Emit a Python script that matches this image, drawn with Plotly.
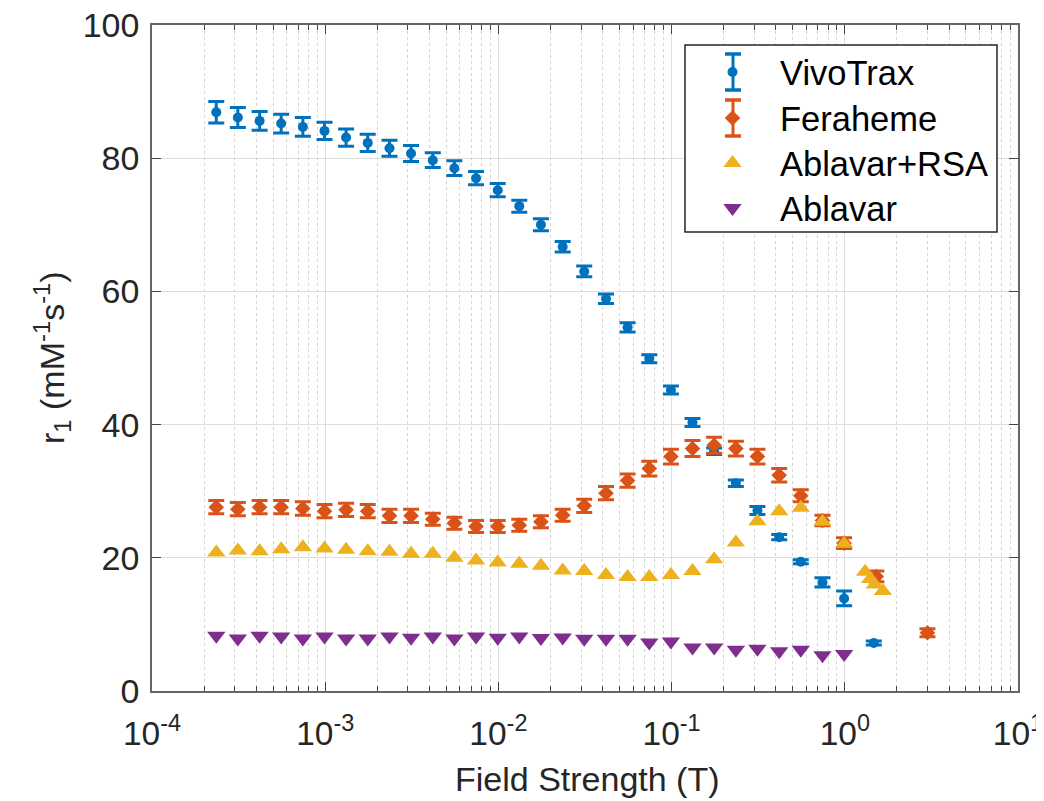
import plotly.graph_objects as go

# Field strength (T) for the field-cycling sweep (0.01 - 42 MHz proton Larmor)
field_sweep = [0.000235, 0.000313, 0.000418, 0.000557, 0.000743, 0.000991,
               0.00132, 0.00176, 0.00235, 0.00313, 0.00418, 0.00557,
               0.00743, 0.00991, 0.0132, 0.0176, 0.0235, 0.0313,
               0.0418, 0.0557, 0.0743, 0.0991, 0.132, 0.176,
               0.235, 0.313, 0.418, 0.557, 0.743, 0.991]

vivotrax_x = field_sweep + [1.47]
vivotrax_y = [86.9, 86.1, 85.6, 85.2, 84.7, 84.1, 83.1, 82.3, 81.5, 80.7,
              79.7, 78.5, 77.0, 75.2, 72.8, 70.0, 66.7, 63.0, 58.9, 54.6,
              49.9, 45.2, 40.3, 36.0, 31.2, 27.1, 23.1, 19.4, 16.3, 13.9,
              7.2]
vivotrax_err = [1.6, 1.5, 1.4, 1.4, 1.4, 1.3, 1.3, 1.3, 1.2, 1.2,
                1.1, 1.1, 1.0, 1.0, 0.9, 0.9, 0.8, 0.8, 0.7, 0.7,
                0.6, 0.6, 0.6, 0.5, 0.5, 0.6, 0.4, 0.3, 0.7, 1.1,
                0.3]

feraheme_x = field_sweep + [1.52, 3.0]
feraheme_y = [27.6, 27.3, 27.6, 27.6, 27.4, 27.0, 27.2, 27.0, 26.3, 26.3,
              25.8, 25.2, 24.7, 24.7, 24.9, 25.4, 26.4, 27.8, 29.7, 31.6,
              33.4, 35.2, 36.4, 36.9, 36.4, 35.2, 32.4, 29.3, 25.6, 22.2,
              17.2, 8.75]
feraheme_err = [1.0, 1.0, 1.0, 1.0, 1.0, 1.0, 1.0, 1.0, 1.0, 1.0,
                0.9, 0.9, 0.9, 0.9, 0.9, 0.9, 0.9, 1.0, 1.0, 1.0,
                1.1, 1.1, 1.2, 1.2, 1.1, 1.1, 1.0, 0.9, 0.8, 0.8,
                0.8, 0.6]

ablavar_rsa_x = field_sweep + [1.31, 1.40, 1.49, 1.66]
ablavar_rsa_y = [20.8, 21.1, 21.0, 21.3, 21.6, 21.4, 21.2, 21.0, 20.9, 20.6,
                 20.6, 20.0, 19.6, 19.3, 19.1, 18.8, 18.1, 18.0, 17.4, 17.1,
                 17.1, 17.4, 18.0, 19.8, 22.3, 25.5, 27.0, 27.5, 25.4, 22.1,
                 17.9, 16.8, 16.0, 15.0]

ablavar_x = field_sweep
ablavar_y = [8.3, 7.9, 8.3, 8.2, 7.9, 8.2, 7.9, 7.9, 8.2, 8.0,
             8.2, 7.9, 8.2, 8.0, 8.2, 7.95, 8.05, 7.85, 7.85, 7.85,
             7.3, 7.45, 6.55, 6.55, 6.2, 6.35, 5.95, 6.2, 5.35, 5.55]

x_tickvals = [1e-4, 1e-3, 1e-2, 1e-1, 1e0, 1e1]
x_ticktext = ["10<sup>-4</sup>", "10<sup>-3</sup>", "10<sup>-2</sup>",
              "10<sup>-1</sup>", "10<sup>0</sup>", "10<sup>1</sup>"]
y_tickvals = [0, 20, 40, 60, 80, 100]

BLUE = "#0072BD"
ORANGE = "#D95319"
YELLOW = "#EDB120"
PURPLE = "#7E2F8E"
FONT = "Liberation Sans, Arial, Helvetica, sans-serif"
TXT = "#262626"

# page geometry (the page body adds an 8 px offset)
PAGE_OFF = 8
PLOT_L, PLOT_R, PLOT_T, PLOT_B = 152, 1018, 25, 691


def px_to_paper(X, Y):
    return ((X - PLOT_L) / (PLOT_R - PLOT_L), (PLOT_B - Y) / (PLOT_B - PLOT_T))


fig = go.Figure()
fig.add_trace(go.Scatter(
    x=vivotrax_x, y=vivotrax_y, mode="markers", name="VivoTrax",
    legend="legend",
    marker=dict(symbol="circle", size=10, color=BLUE),
    error_y=dict(type="data", array=vivotrax_err, color=BLUE, thickness=3, width=8)))
fig.add_trace(go.Scatter(
    x=feraheme_x, y=feraheme_y, mode="markers", name="Feraheme",
    legend="legend2",
    marker=dict(symbol="diamond", size=12, color=ORANGE),
    error_y=dict(type="data", array=feraheme_err, color=ORANGE, thickness=3, width=8)))
fig.add_trace(go.Scatter(
    x=ablavar_rsa_x, y=ablavar_rsa_y, mode="markers", name="Ablavar+RSA",
    legend="legend3",
    marker=dict(symbol="triangle-up", size=16, color=YELLOW)))
fig.add_trace(go.Scatter(
    x=ablavar_x, y=ablavar_y, mode="markers", name="Ablavar",
    legend="legend4",
    marker=dict(symbol="triangle-down", size=16, color=PURPLE)))

minor_x = [m * 10 ** e for e in range(-4, 1) for m in range(2, 10)]

fig.update_xaxes(
    type="log", range=[-4, 1],
    tickmode="array", tickvals=x_tickvals, ticktext=x_ticktext,
    ticks="inside", ticklen=9, tickwidth=1.2, tickcolor="#444",
    ticklabelstandoff=12, ticklabeloverflow="allow",
    showline=True, linecolor="#666", linewidth=1.5, mirror="ticks",
    showgrid=True, gridcolor="#dedede", gridwidth=1,
    minor=dict(tickmode="array", tickvals=minor_x, ticks="inside", ticklen=5,
               tickcolor="#444", showgrid=True, gridcolor="#d4d4d4",
               griddash="dot", gridwidth=1),
    tickfont=dict(family=FONT, size=33.5, color=TXT),
    zeroline=False, automargin=False)
fig.update_yaxes(
    range=[0, 100], tickmode="array", tickvals=y_tickvals,
    ticks="inside", ticklen=9, tickwidth=1.2, tickcolor="#444",
    ticklabelstandoff=4, ticklabeloverflow="allow",
    showline=True, linecolor="#666", linewidth=1.5, mirror="ticks",
    showgrid=True, gridcolor="#dedede", gridwidth=1,
    tickfont=dict(family=FONT, size=34, color=TXT),
    zeroline=False, automargin=False)

tx, ty = px_to_paper(587, 779)
fig.add_annotation(text="Field Strength (T)", xref="paper", yref="paper",
                   x=tx, y=ty, showarrow=False, yanchor="middle",
                   font=dict(family=FONT, size=34, color=TXT))
lx, ly = px_to_paper(52, 358)
fig.add_annotation(text="r<sub>1</sub> (mM<sup>-1</sup>s<sup>-1</sup>)",
                   xref="paper", yref="paper", x=lx, y=ly,
                   showarrow=False, textangle=-90, xanchor="center",
                   yanchor="middle",
                   font=dict(family=FONT, size=34, color=TXT))

# legend box drawn as a shape, plus error-bar glyphs for the legend entries
bx0, by0 = px_to_paper(685, 232)
bx1, by1 = px_to_paper(997, 45)
fig.add_shape(type="rect", xref="paper", yref="paper", x0=bx0, y0=by0,
              x1=bx1, y1=by1, fillcolor="white",
              line=dict(color=TXT, width=1.5), layer="above")
for cy, col in [(72, BLUE), (118, ORANGE)]:
    cx = 733
    xa, ya = px_to_paper(cx, cy - 18)
    xb, yb = px_to_paper(cx, cy + 18)
    fig.add_shape(type="line", xref="paper", yref="paper", x0=xa, y0=ya,
                  x1=xb, y1=yb, line=dict(color=col, width=3), layer="above")
    for yy in (cy - 18, cy + 18):
        xl, yl = px_to_paper(cx - 8, yy)
        xr, yr = px_to_paper(cx + 8, yy)
        fig.add_shape(type="line", xref="paper", yref="paper", x0=xl, y0=yl,
                      x1=xr, y1=yr, line=dict(color=col, width=3.5),
                      layer="above")

legend_rows = {"legend": 72, "legend2": 118, "legend3": 163, "legend4": 208}
legend_layout = {}
for key, row_y in legend_rows.items():
    gx, gy = px_to_paper(685, row_y)
    legend_layout[key] = dict(x=gx, y=gy, xanchor="left", yanchor="middle",
                              bgcolor="rgba(0,0,0,0)", borderwidth=0,
                              font=dict(family=FONT, size=34.5, color="#000"),
                              itemwidth=85)

fig.update_layout(
    width=1044 - PAGE_OFF, height=801 - PAGE_OFF,
    margin=dict(l=PLOT_L - PAGE_OFF, r=1044 - PLOT_R, t=PLOT_T - PAGE_OFF,
                b=801 - PLOT_B),
    plot_bgcolor="white", paper_bgcolor="white",
    showlegend=True,
    **legend_layout,
)

fig.write_html("out.html")
